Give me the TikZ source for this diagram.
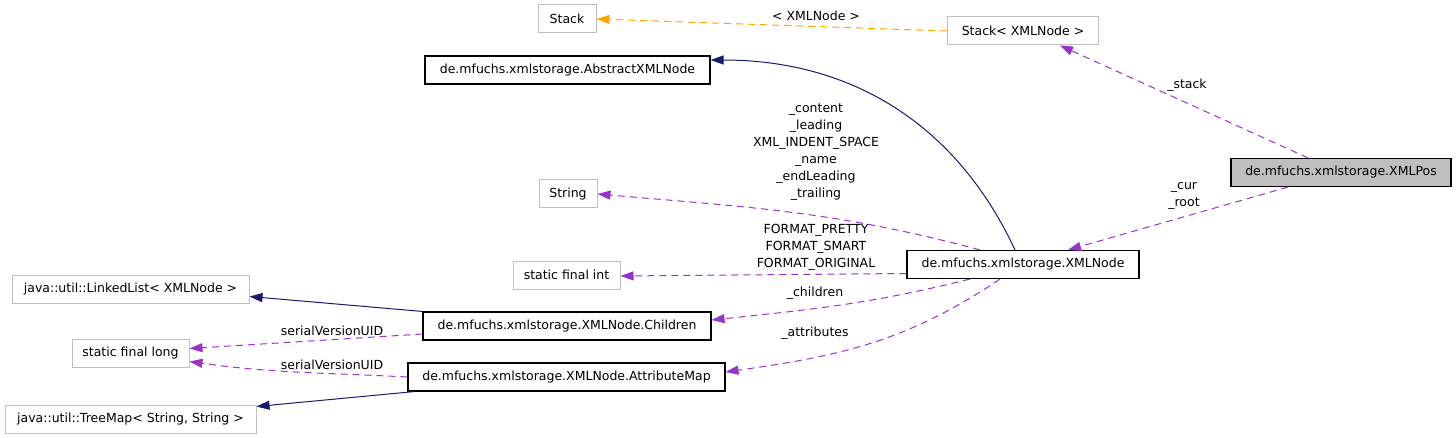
\documentclass[tikz,border=0pt]{standalone}
\usepackage{fontspec}
\setmainfont{DejaVu Sans}
\usetikzlibrary{arrows.meta,positioning}
\definecolor{edgenavy}{HTML}{191970}
\definecolor{edgepurple}{HTML}{9A32CD}
\definecolor{edgeorange}{HTML}{FFA500}
\definecolor{boxgray}{HTML}{BFBFBF}

\begin{document}
\begin{tikzpicture}[x=1pt,y=1pt,
    font=\fontsize{12.5}{17}\selectfont,
    box/.style={draw=boxgray,line width=1pt,minimum height=28pt,inner xsep=2pt,inner ysep=0pt},
    docbox/.style={box,draw=black,line width=1.1pt},
    curbox/.style={docbox,fill=boxgray},
    lbl/.style={inner sep=0pt,align=center},
    inhline/.style={color=edgenavy,line width=1pt,-{Triangle[length=13pt,width=9pt]}},
    useline/.style={color=edgepurple,line width=1pt,dash pattern=on 7pt off 5pt,-{Triangle[length=13pt,width=9pt]}},
    tmplline/.style={color=edgeorange,line width=1pt,dash pattern=on 7pt off 5pt,-{Triangle[length=13pt,width=9pt]}}]
            \useasboundingbox (0,0) rectangle (1456,437);
            \draw (567,418) node[box,minimum width=58pt] (stack) {Stack};
            \draw (1023,406) node[box,minimum width=151pt] (stackx) {Stack< XMLNode >};
            \draw (567.5,367) node[docbox,minimum width=285pt] (abstract) {de.mfuchs.xmlstorage.AbstractXMLNode};
            \draw (568,243) node[box,minimum width=58pt] (string) {String};
            \draw (1341,264.5) node[curbox,minimum width=220pt] (xmlpos) {de.mfuchs.xmlstorage.XMLPos};
            \draw (1023,172.5) node[docbox,minimum width=232pt] (xmlnode) {de.mfuchs.xmlstorage.XMLNode};
            \draw (566.5,162) node[box,minimum width=107pt] (sfint) {static final int};
            \draw (130.5,147.5) node[box,minimum width=237pt] (linked) {java::util::LinkedList< XMLNode >};
            \draw (567,111) node[docbox,minimum width=288pt] (children) {de.mfuchs.xmlstorage.XMLNode.Children};
            \draw (130.5,83.5) node[box,minimum width=117pt] (sflong) {static final long};
            \draw (566.5,60) node[docbox,minimum width=317pt] (attrmap) {de.mfuchs.xmlstorage.XMLNode.AttributeMap};
            \draw (130.5,18) node[box,minimum width=251pt] (treemap) {java::util::TreeMap< String, String >};
            % edge labels
            \draw (816,421) node[lbl] (ltmpl) {< XMLNode >};
            \draw (1187,352) node[lbl] (lstack) {\_stack};
            \draw (816,284.5) node[lbl] (lstring) {\_content\\\_leading\\XML\_INDENT\_SPACE\\\_name\\\_endLeading\\\_trailing};
            \draw (1184,241.5) node[lbl] (lpos) {\_cur\\\_root};
            \draw (816,190) node[lbl] (lformat) {FORMAT\_PRETTY\\FORMAT\_SMART\\FORMAT\_ORIGINAL};
            \draw (815,144) node[lbl] (lchildren) {\_children};
            \draw (815,104) node[lbl] (lattr) {\_attributes};
            \draw (332,106) node[lbl] (lserial) {serialVersionUID};
            \draw (332,72) node[lbl] (lserialb) {serialVersionUID};
            % connectors
            \path[tmplline]
            (stackx.west) edge (stack.east);
            \path[inhline]
            ([xshift=-8pt]xmlnode.north) edge[out=115,in=0] ([yshift=10pt]abstract.east)
            (children.north west) edge ([yshift=-7pt]linked.east)
            ([xshift=7pt]attrmap.south west) edge ([yshift=-2pt]treemap.north east);
            \path[useline]
            ([xshift=-33pt]xmlpos.north) edge ([xshift=37pt]stackx.south)
            ([xshift=-53pt]xmlpos.south) edge ([xshift=45pt]xmlnode.north)
            ([xshift=-43pt]xmlnode.north) edge[out=165,in=-5] (string.east)
            ([yshift=-9pt]xmlnode.west) edge ([yshift=-1pt]sfint.east)
            ([xshift=-53pt]xmlnode.south) edge[out=194,in=6] ([yshift=6pt]children.east)
            ([xshift=-23pt]xmlnode.south) edge[out=214,in=8] ([yshift=5pt]attrmap.east)
            ([yshift=-8pt]children.west) edge ([yshift=5pt]sflong.east)
            (attrmap.west) edge[out=177,in=-8] ([yshift=-8pt]sflong.east);
        \end{tikzpicture}
\end{document}
